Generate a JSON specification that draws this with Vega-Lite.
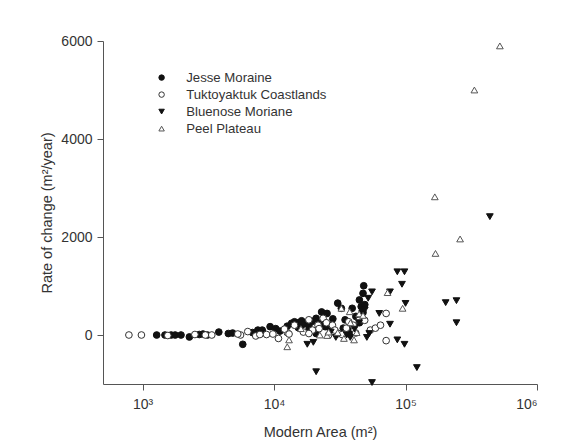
{
  "$schema": "https://vega.github.io/schema/vega-lite/v6.json",
  "width": 434,
  "height": 343,
  "autosize": {"type": "none"},
  "padding": {"left": 103, "top": 41, "right": 27, "bottom": 57},
  "background": "white",
  "config": {
    "view": {"stroke": null},
    "font": "Liberation Sans",
    "axis": {"grid": false, "domainColor": "#555", "tickColor": "#555", "labelColor": "#333", "titleColor": "#333", "labelFontSize": 14, "titleFontSize": 14.5, "titleFontWeight": "normal", "tickSize": 6, "labelPadding": 5}
  },
  "data": {"values": [
    {"a":1280,"r":0,"s":"Jesse Moraine"},{"a":1480,"r":0,"s":"Jesse Moraine"},{"a":1650,"r":0,"s":"Jesse Moraine"},{"a":1770,"r":0,"s":"Jesse Moraine"},{"a":1960,"r":0,"s":"Jesse Moraine"},{"a":2270,"r":-40,"s":"Jesse Moraine"},{"a":2700,"r":10,"s":"Jesse Moraine"},{"a":2880,"r":20,"s":"Jesse Moraine"},{"a":3110,"r":0,"s":"Jesse Moraine"},{"a":3800,"r":60,"s":"Jesse Moraine"},{"a":4490,"r":30,"s":"Jesse Moraine"},{"a":4840,"r":40,"s":"Jesse Moraine"},{"a":5780,"r":-190,"s":"Jesse Moraine"},{"a":6850,"r":50,"s":"Jesse Moraine"},{"a":7530,"r":100,"s":"Jesse Moraine"},{"a":8130,"r":100,"s":"Jesse Moraine"},{"a":9330,"r":170,"s":"Jesse Moraine"},{"a":10300,"r":130,"s":"Jesse Moraine"},{"a":11100,"r":80,"s":"Jesse Moraine"},{"a":13600,"r":240,"s":"Jesse Moraine"},{"a":14300,"r":270,"s":"Jesse Moraine"},{"a":15300,"r":250,"s":"Jesse Moraine"},{"a":16200,"r":290,"s":"Jesse Moraine"},{"a":17300,"r":230,"s":"Jesse Moraine"},{"a":18400,"r":200,"s":"Jesse Moraine"},{"a":19600,"r":280,"s":"Jesse Moraine"},{"a":20900,"r":340,"s":"Jesse Moraine"},{"a":22300,"r":230,"s":"Jesse Moraine"},{"a":23000,"r":470,"s":"Jesse Moraine"},{"a":24500,"r":170,"s":"Jesse Moraine"},{"a":25300,"r":440,"s":"Jesse Moraine"},{"a":26900,"r":100,"s":"Jesse Moraine"},{"a":30500,"r":650,"s":"Jesse Moraine"},{"a":32500,"r":545,"s":"Jesse Moraine"},{"a":33600,"r":140,"s":"Jesse Moraine"},{"a":34700,"r":310,"s":"Jesse Moraine"},{"a":36500,"r":140,"s":"Jesse Moraine"},{"a":38100,"r":20,"s":"Jesse Moraine"},{"a":39300,"r":545,"s":"Jesse Moraine"},{"a":41900,"r":380,"s":"Jesse Moraine"},{"a":44600,"r":715,"s":"Jesse Moraine"},{"a":46000,"r":580,"s":"Jesse Moraine"},{"a":47500,"r":850,"s":"Jesse Moraine"},{"a":48100,"r":1005,"s":"Jesse Moraine"},{"a":49000,"r":620,"s":"Jesse Moraine"},{"a":15300,"r":150,"s":"Jesse Moraine"},{"a":18400,"r":100,"s":"Jesse Moraine"},{"a":20900,"r":30,"s":"Jesse Moraine"},{"a":12600,"r":180,"s":"Jesse Moraine"},{"a":16200,"r":200,"s":"Jesse Moraine"},{"a":28000,"r":330,"s":"Jesse Moraine"},{"a":44600,"r":250,"s":"Jesse Moraine"},{"a":47500,"r":460,"s":"Jesse Moraine"},
    {"a":787,"r":0,"s":"Tuktoyaktuk Coastlands"},{"a":980,"r":0,"s":"Tuktoyaktuk Coastlands"},{"a":1555,"r":-10,"s":"Tuktoyaktuk Coastlands"},{"a":3360,"r":0,"s":"Tuktoyaktuk Coastlands"},{"a":5560,"r":0,"s":"Tuktoyaktuk Coastlands"},{"a":6310,"r":70,"s":"Tuktoyaktuk Coastlands"},{"a":7260,"r":-20,"s":"Tuktoyaktuk Coastlands"},{"a":8770,"r":10,"s":"Tuktoyaktuk Coastlands"},{"a":10800,"r":-70,"s":"Tuktoyaktuk Coastlands"},{"a":12600,"r":50,"s":"Tuktoyaktuk Coastlands"},{"a":14300,"r":200,"s":"Tuktoyaktuk Coastlands"},{"a":16700,"r":60,"s":"Tuktoyaktuk Coastlands"},{"a":18400,"r":310,"s":"Tuktoyaktuk Coastlands"},{"a":19600,"r":100,"s":"Tuktoyaktuk Coastlands"},{"a":21600,"r":200,"s":"Tuktoyaktuk Coastlands"},{"a":23600,"r":340,"s":"Tuktoyaktuk Coastlands"},{"a":26000,"r":0,"s":"Tuktoyaktuk Coastlands"},{"a":27800,"r":200,"s":"Tuktoyaktuk Coastlands"},{"a":31000,"r":30,"s":"Tuktoyaktuk Coastlands"},{"a":35500,"r":140,"s":"Tuktoyaktuk Coastlands"},{"a":40000,"r":200,"s":"Tuktoyaktuk Coastlands"},{"a":44400,"r":300,"s":"Tuktoyaktuk Coastlands"},{"a":48900,"r":300,"s":"Tuktoyaktuk Coastlands"},{"a":54000,"r":100,"s":"Tuktoyaktuk Coastlands"},{"a":59000,"r":140,"s":"Tuktoyaktuk Coastlands"},{"a":64500,"r":200,"s":"Tuktoyaktuk Coastlands"},{"a":71200,"r":440,"s":"Tuktoyaktuk Coastlands"},{"a":71200,"r":-115,"s":"Tuktoyaktuk Coastlands"},{"a":41800,"r":40,"s":"Tuktoyaktuk Coastlands"},{"a":13000,"r":20,"s":"Tuktoyaktuk Coastlands"},{"a":12000,"r":120,"s":"Tuktoyaktuk Coastlands"},{"a":18400,"r":30,"s":"Tuktoyaktuk Coastlands"},{"a":29000,"r":100,"s":"Tuktoyaktuk Coastlands"},{"a":33000,"r":10,"s":"Tuktoyaktuk Coastlands"},{"a":9800,"r":20,"s":"Tuktoyaktuk Coastlands"},{"a":7800,"r":10,"s":"Tuktoyaktuk Coastlands"},{"a":5300,"r":20,"s":"Tuktoyaktuk Coastlands"},{"a":2500,"r":10,"s":"Tuktoyaktuk Coastlands"},{"a":3000,"r":0,"s":"Tuktoyaktuk Coastlands"},{"a":22000,"r":130,"s":"Tuktoyaktuk Coastlands"},{"a":37000,"r":270,"s":"Tuktoyaktuk Coastlands"},{"a":25000,"r":250,"s":"Tuktoyaktuk Coastlands"},
    {"a":17900,"r":-190,"s":"Bluenose Moriane"},{"a":19900,"r":-150,"s":"Bluenose Moriane"},{"a":20900,"r":-750,"s":"Bluenose Moriane"},{"a":29500,"r":-50,"s":"Bluenose Moriane"},{"a":35700,"r":0,"s":"Bluenose Moriane"},{"a":38000,"r":-50,"s":"Bluenose Moriane"},{"a":44400,"r":250,"s":"Bluenose Moriane"},{"a":46800,"r":440,"s":"Bluenose Moriane"},{"a":49000,"r":510,"s":"Bluenose Moriane"},{"a":50800,"r":-50,"s":"Bluenose Moriane"},{"a":52000,"r":750,"s":"Bluenose Moriane"},{"a":55600,"r":880,"s":"Bluenose Moriane"},{"a":53000,"r":30,"s":"Bluenose Moriane"},{"a":55600,"r":-970,"s":"Bluenose Moriane"},{"a":63100,"r":440,"s":"Bluenose Moriane"},{"a":76200,"r":220,"s":"Bluenose Moriane"},{"a":76200,"r":880,"s":"Bluenose Moriane"},{"a":86600,"r":-100,"s":"Bluenose Moriane"},{"a":86600,"r":1290,"s":"Bluenose Moriane"},{"a":98200,"r":1290,"s":"Bluenose Moriane"},{"a":94000,"r":1035,"s":"Bluenose Moriane"},{"a":98200,"r":-190,"s":"Bluenose Moriane"},{"a":100000,"r":645,"s":"Bluenose Moriane"},{"a":122000,"r":-665,"s":"Bluenose Moriane"},{"a":202000,"r":660,"s":"Bluenose Moriane"},{"a":244000,"r":700,"s":"Bluenose Moriane"},{"a":244000,"r":250,"s":"Bluenose Moriane"},{"a":438000,"r":2415,"s":"Bluenose Moriane"},{"a":41000,"r":120,"s":"Bluenose Moriane"},{"a":27000,"r":60,"s":"Bluenose Moriane"},
    {"a":13000,"r":-100,"s":"Peel Plateau"},{"a":12600,"r":-240,"s":"Peel Plateau"},{"a":22300,"r":0,"s":"Peel Plateau"},{"a":25300,"r":-10,"s":"Peel Plateau"},{"a":32500,"r":545,"s":"Peel Plateau"},{"a":34000,"r":-70,"s":"Peel Plateau"},{"a":37600,"r":475,"s":"Peel Plateau"},{"a":38100,"r":250,"s":"Peel Plateau"},{"a":40600,"r":-100,"s":"Peel Plateau"},{"a":42500,"r":50,"s":"Peel Plateau"},{"a":44400,"r":430,"s":"Peel Plateau"},{"a":73000,"r":865,"s":"Peel Plateau"},{"a":95000,"r":545,"s":"Peel Plateau"},{"a":167000,"r":2820,"s":"Peel Plateau"},{"a":169000,"r":1665,"s":"Peel Plateau"},{"a":260000,"r":1960,"s":"Peel Plateau"},{"a":334000,"r":5000,"s":"Peel Plateau"},{"a":522000,"r":5900,"s":"Peel Plateau"},{"a":30500,"r":50,"s":"Peel Plateau"},{"a":47500,"r":400,"s":"Peel Plateau"},{"a":26000,"r":60,"s":"Peel Plateau"},{"a":16000,"r":130,"s":"Peel Plateau"}
  ]},
  "mark": {"type": "point", "size": 45, "strokeWidth": 1, "opacity": 1},
  "encoding": {
    "x": {"field": "a", "type": "quantitative", "scale": {"type": "log", "domain": [500, 1000000], "nice": false},
      "axis": {"values": [1000, 10000, 100000, 1000000], "labelExpr": "datum.value == 1000 ? '10³' : datum.value == 10000 ? '10⁴' : datum.value == 100000 ? '10⁵' : '10⁶'", "title": "Modern Area (m²)", "titlePadding": 14, "labelPadding": 7}},
    "y": {"field": "r", "type": "quantitative", "scale": {"domain": [-1000, 6000], "nice": false, "zero": false},
      "axis": {"values": [0, 2000, 4000, 6000], "format": "d", "title": "Rate of change (m²/year)", "titlePadding": 6}},
    "shape": {"field": "s", "type": "nominal", "sort": ["Jesse Moraine", "Tuktoyaktuk Coastlands", "Bluenose Moriane", "Peel Plateau"],
      "scale": {"domain": ["Jesse Moraine", "Tuktoyaktuk Coastlands", "Bluenose Moriane", "Peel Plateau"], "range": ["circle", "circle", "triangle-down", "triangle-up"]},
      "legend": {"title": null, "orient": "none", "legendX": 52, "legendY": 30, "labelFontSize": 13.2, "labelColor": "#333", "symbolSize": 30, "rowPadding": 3, "labelOffset": 18, "symbolStrokeWidth": 1}},
    "fill": {"field": "s", "type": "nominal",
      "scale": {"domain": ["Jesse Moraine", "Tuktoyaktuk Coastlands", "Bluenose Moriane", "Peel Plateau"], "range": ["#111", "white", "#111", "white"]}, "legend": null},
    "stroke": {"field": "s", "type": "nominal",
      "scale": {"domain": ["Jesse Moraine", "Tuktoyaktuk Coastlands", "Bluenose Moriane", "Peel Plateau"], "range": ["#111", "#333", "#111", "#555"]}, "legend": null}
  }
}
